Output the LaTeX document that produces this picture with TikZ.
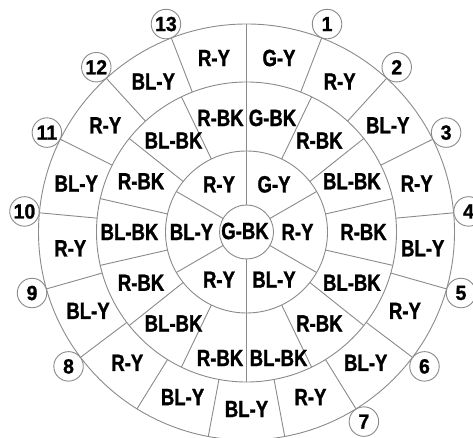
\documentclass[tikz,border=0pt]{standalone}
\usepackage{fontspec}
\setmainfont{Liberation Sans}[FakeStretch=0.79, BoldFeatures={FakeBold=1.2}]
\newfontfamily\digitfont{Liberation Sans}[FakeStretch=0.95, BoldFeatures={FakeBold=1.2}]
\definecolor{linegray}{HTML}{8A8A8A}
\begin{document}
\begin{tikzpicture}[x=1pt,y=1pt,
  ring/.style={draw=linegray, line width=0.9pt},
  lbl/.style={font=\bfseries\fontsize{23.5}{23.5}\selectfont, inner sep=0pt, text=black},
  marker/.style={circle, draw=linegray, line width=0.9pt, fill=white, minimum size=29.5pt, inner sep=0pt, font=\digitfont\bfseries\fontsize{20.5}{20.5}\selectfont}]
\useasboundingbox (0,0) rectangle (473,438);
\clip (0,0) rectangle (473,438);
\begin{scope}[shift={(246.5,206)}]
\coordinate (C) at (0,0);
\draw[ring] (C) circle (27pt) (C) circle (81pt) (C) circle (150pt) (C) circle (208pt);
% inner ring boundaries
\foreach \a in {90,30,-30,-90,-150,150} \draw[ring] (\a:27pt) -- (\a:81pt);
% middle ring boundaries
\foreach \k in {0,...,13} \draw[ring] ({90-\k*360/14}:81pt) -- ({90-\k*360/14}:150pt);
% outer ring boundaries
\foreach \k in {0,...,16} \draw[ring] ({90-\k*360/17}:150pt) -- ({90-\k*360/17}:208pt);
% centre
\node[lbl] (c0) at (-1.5,1) {G-BK};
% inner ring labels
\node[lbl] (in0) at (60:55pt) {G-Y};
\node[lbl] (in1) at (0:51pt) {R-Y};
\node[lbl] (in2) at (-60:55pt) {BL-Y};
\node[lbl] (in3) at (-120:55pt) {R-Y};
\node[lbl] (in4) at (180:55pt) {BL-Y};
\node[lbl] (in5) at (120:55pt) {R-Y};
% middle ring labels
\foreach \t [count=\i from 0] in {G-BK,R-BK,BL-BK,R-BK,BL-BK,R-BK}
  \node[lbl] (mid\i) at ({90-(\i+0.5)*360/14}:117pt) {\t};
\node[lbl, anchor=west] (mid6) at (3,-126) {BL-BK};
\node[lbl, anchor=east] (mid7) at (-3,-126) {R-BK};
\foreach \t [count=\i from 8] in {BL-BK,R-BK,BL-BK,R-BK,BL-BK,R-BK}
  \node[lbl] (mid\i) at ({90-(\i+0.5)*360/14}:117pt) {\t};
% outer ring labels
\foreach \t [count=\i from 0] in {G-Y,R-Y,BL-Y,R-Y,BL-Y,R-Y,BL-Y,R-Y,BL-Y,BL-Y,R-Y,BL-Y,R-Y,BL-Y,R-Y,BL-Y,R-Y}
  \node[lbl] (out\i) at ({90-(\i+0.5)*360/17}:177pt) {\t};
% numbered markers
\foreach \n/\k in {1/1,2/2,3/3,4/4,5/5,6/6,7/7,8/11,9/12,10/13,11/14,12/15,13/16}
  \node[marker] (m\n) at ({90-\k*360/17}:223pt) {\n};
\end{scope}
\end{tikzpicture}
\end{document}
